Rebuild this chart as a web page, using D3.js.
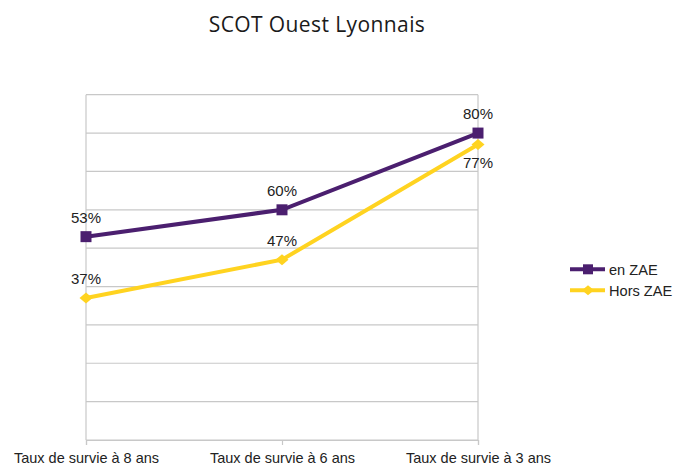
<!DOCTYPE html>
<html><head><meta charset="utf-8">
<script src="https://cdn.jsdelivr.net/npm/d3@7"></script>
<style>body{margin:0;background:#fff}</style>
</head><body>
<svg id="c" width="675" height="464"></svg>
<script>
const categories = ["Taux de survie à 8 ans", "Taux de survie à 6 ans", "Taux de survie à 3 ans"];
const enZAE = [0.53, 0.60, 0.80];
const horsZAE = [0.37, 0.47, 0.77];
const seriesNames = ["en ZAE", "Hors ZAE"];
const yTicks = [0,0.1,0.2,0.3,0.4,0.5,0.6,0.7,0.8,0.9];

const svg = d3.select("#c");
const L=86, R=478, T=94.7, B=440;
const x = d3.scalePoint().domain(categories).range([L,R]).padding(0);
const y = d3.scaleLinear().domain([0,0.9]).range([B,T]);

// wide diamond symbol (size = width)
const wideDiamond = {draw(ctx, size){ const w=size/2, h=size*0.42; ctx.moveTo(-w,0); ctx.lineTo(0,-h); ctx.lineTo(w,0); ctx.lineTo(0,h); ctx.closePath(); }};
const squareW = {draw(ctx, size){ const w=size/2; ctx.rect(-w,-w,size,size); }};

svg.append("text").attr("x",317).attr("y",31.5).attr("text-anchor","middle")
  .attr("font-family","Open Sans").attr("font-size",21).attr("letter-spacing",0.4).attr("fill","#1a1a1a").text("SCOT Ouest Lyonnais");

// grid
svg.append("g").selectAll("line").data(yTicks).join("line")
  .attr("x1",L).attr("x2",R).attr("y1",d=>y(d)).attr("y2",d=>y(d))
  .attr("stroke","#c8c8c8").attr("stroke-width",1.2);
svg.append("line").attr("x1",L).attr("x2",L).attr("y1",T).attr("y2",B).attr("stroke","#c8c8c8").attr("stroke-width",1.2);
svg.append("line").attr("x1",R).attr("x2",R).attr("y1",T).attr("y2",B).attr("stroke","#c8c8c8").attr("stroke-width",1.2);

// x axis
const xa = svg.append("g").attr("transform",`translate(0,${B})`)
  .call(d3.axisBottom(x).tickSize(5).tickPadding(0));
xa.select(".domain").attr("stroke","#c8c8c8").attr("stroke-width",1.2);
xa.selectAll(".tick line").attr("stroke","#c8c8c8").attr("stroke-width",1.2);
xa.selectAll("text").attr("dy",null).attr("y",22.5).attr("font-family","Liberation Sans").attr("font-size",14.5).attr("fill","#222");

const series = [
  {name:seriesNames[0], vals:enZAE, color:"#4b1f6f", shape:squareW, msize:11, lsize:10, above:[true,true,true]},
  {name:seriesNames[1], vals:horsZAE, color:"#ffd320", shape:wideDiamond, msize:13, lsize:12, above:[true,true,false]}
];
const line = d3.line().x((d,i)=>x(categories[i])).y(d=>y(d));
series.forEach(s=>{
  svg.append("path").datum(s.vals).attr("d",line).attr("fill","none")
    .attr("stroke",s.color).attr("stroke-width",4);
  const sym = d3.symbol().type(s.shape).size(s.msize);
  svg.append("g").selectAll("path").data(s.vals).join("path")
    .attr("transform",(d,i)=>`translate(${x(categories[i])},${y(d)})`)
    .attr("d",sym).attr("fill",s.color);
  svg.append("g").selectAll("text").data(s.vals).join("text")
    .attr("x",(d,i)=>x(categories[i]))
    .attr("y",(d,i)=>s.above[i]? y(d)-14 : y(d)+23)
    .attr("text-anchor","middle").attr("font-family","Liberation Sans").attr("font-size",15).attr("fill","#222")
    .text(d=>Math.round(d*100)+"%");
});

// legend
series.forEach((s,i)=>{
  const ly = 269.3 + i*21;
  svg.append("line").attr("x1",570).attr("x2",605).attr("y1",ly).attr("y2",ly).attr("stroke",s.color).attr("stroke-width",4);
  const sym = d3.symbol().type(s.shape).size(s.lsize);
  svg.append("path").attr("transform",`translate(588,${ly})`).attr("d",sym).attr("fill",s.color);
  svg.append("text").attr("x",609).attr("y",ly+5.5).attr("font-family","Liberation Sans").attr("font-size",14.6).attr("fill","#222").text(s.name);
});
</script>
</body></html>
